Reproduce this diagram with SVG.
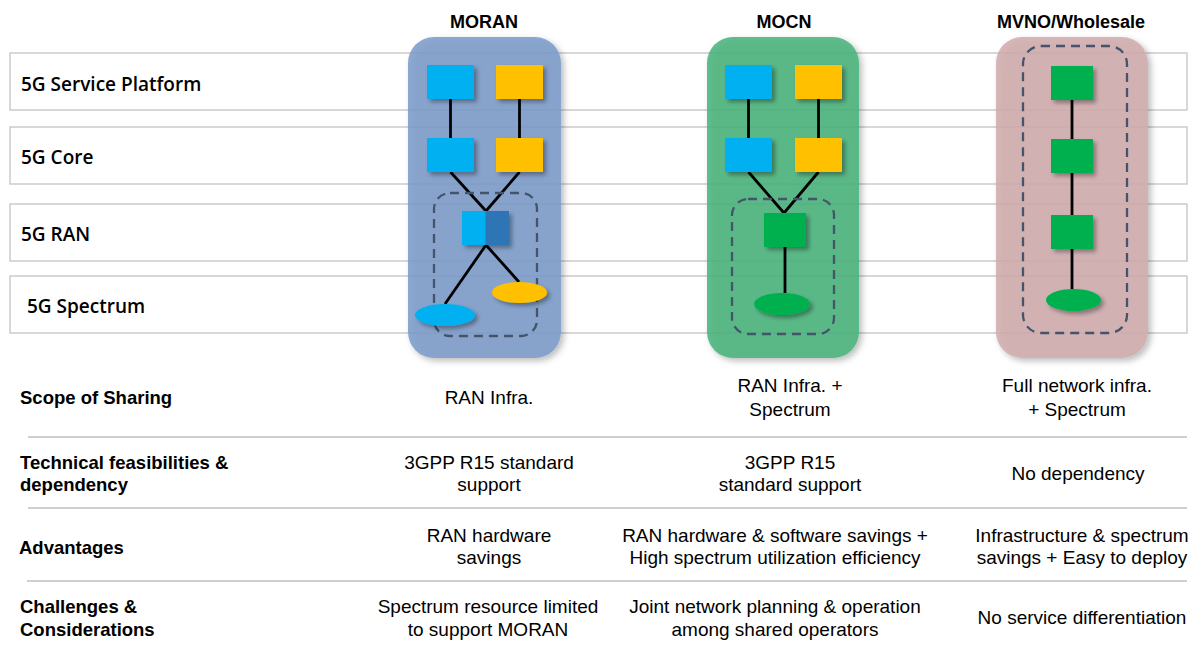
<svg xmlns="http://www.w3.org/2000/svg" width="1192" height="647" viewBox="0 0 1192 647">
<defs>
<filter id="shadow" x="-20%" y="-20%" width="150%" height="150%">
<feDropShadow dx="3" dy="3" stdDeviation="2" flood-color="#000" flood-opacity="0.35"/>
</filter>
<filter id="pshadow" x="-20%" y="-10%" width="140%" height="125%">
<feDropShadow dx="3" dy="3" stdDeviation="3" flood-color="#000" flood-opacity="0.3"/>
</filter>
<style>
.row{fill:#fff;stroke:#C8C8C8;stroke-width:1.4}
.rl{font-family:"Open Sans","Noto Sans",sans-serif;font-size:19px;font-weight:600;fill:#000}
.hd{font-family:"Liberation Sans",Arial,sans-serif;font-size:18px;font-weight:bold;fill:#000;text-anchor:middle}
.bl{font-family:"Liberation Sans",Arial,sans-serif;font-size:18.5px;font-weight:bold;fill:#000}
.tx{font-family:"Liberation Sans",Arial,sans-serif;font-size:19px;fill:#000;text-anchor:middle}
.sep{stroke:#BFBFBF;stroke-width:1.5}
.blue{fill:#00B0F0;filter:url(#shadow)}
.yel{fill:#FFC000;filter:url(#shadow)}
.grn{fill:#00B050;filter:url(#shadow)}
.dash{fill:none;stroke:#44546A;stroke-width:2.3;stroke-dasharray:9 6}
.edge{stroke:#000;stroke-width:2.8;fill:none}
</style>
</defs>
<rect width="1192" height="647" fill="#fff"/>

<g id="layers">
<g id="row-platform"><rect class="row" x="10" y="53" width="1177" height="57"/><text class="rl" x="21" y="91">5G Service Platform</text></g>
<g id="row-core"><rect class="row" x="10" y="127" width="1177" height="57"/><text class="rl" x="21" y="164">5G Core</text></g>
<g id="row-ran"><rect class="row" x="10" y="204" width="1177" height="57"/><text class="rl" x="21" y="241">5G RAN</text></g>
<g id="row-spectrum"><rect class="row" x="10" y="276" width="1177" height="57"/><text class="rl" x="27" y="313">5G Spectrum</text></g>
</g>

<g id="headers">
<text class="hd" x="484" y="28">MORAN</text>
<text class="hd" x="784" y="28">MOCN</text>
<text class="hd" x="1071" y="28">MVNO/Wholesale</text>
</g>

<g id="panel-moran"><rect x="408" y="37" width="153" height="321" rx="26" fill="#7A9BCA" fill-opacity="0.86" filter="url(#pshadow)"/></g>
<g id="panel-mocn"><rect x="707" y="37" width="152" height="321" rx="26" fill="#47B27A" fill-opacity="0.86" filter="url(#pshadow)"/></g>
<g id="panel-mvno"><rect x="996" y="37" width="152" height="321" rx="26" fill="#D0ABAE" fill-opacity="0.86" filter="url(#pshadow)"/></g>

<g id="connectors">
<line class="edge" x1="450.5" y1="99" x2="450.5" y2="138"/>
<line class="edge" x1="519.5" y1="99" x2="519.5" y2="138"/>
<line class="edge" x1="450.5" y1="172" x2="486" y2="211"/>
<line class="edge" x1="519.5" y1="172" x2="486" y2="211"/>
<line class="edge" x1="486" y1="245" x2="445" y2="304"/>
<line class="edge" x1="486" y1="245" x2="519" y2="282"/>
<line class="edge" x1="748.5" y1="99" x2="748.5" y2="138"/>
<line class="edge" x1="818.5" y1="99" x2="818.5" y2="138"/>
<line class="edge" x1="748.5" y1="172" x2="784" y2="213"/>
<line class="edge" x1="818.5" y1="172" x2="784" y2="213"/>
<line class="edge" x1="785" y1="247" x2="785" y2="293"/>
<line class="edge" x1="1072" y1="100" x2="1072" y2="139"/>
<line class="edge" x1="1072" y1="173" x2="1072" y2="215"/>
<line class="edge" x1="1072" y1="249" x2="1072" y2="289"/>
</g>

<g id="moran-nodes">
<rect class="dash" x="434" y="193" width="103" height="143" rx="16"/>
<g id="moran-sp-a"><rect class="blue" x="427" y="65" width="47" height="34"/></g>
<g id="moran-sp-b"><rect class="yel" x="496" y="65" width="47" height="34"/></g>
<g id="moran-core-a"><rect class="blue" x="427" y="138" width="47" height="34"/></g>
<g id="moran-core-b"><rect class="yel" x="496" y="138" width="47" height="34"/></g>
<g id="moran-ran" filter="url(#shadow)"><rect x="462" y="211" width="24" height="34" fill="#00B0F0"/><rect x="485.5" y="211" width="23.5" height="34" fill="#2E75B6"/></g>
<g id="moran-spec-a"><ellipse class="blue" cx="445" cy="315" rx="30" ry="11"/></g>
<g id="moran-spec-b"><ellipse class="yel" cx="519.5" cy="292.5" rx="27.5" ry="10.5"/></g>
</g>

<g id="mocn-nodes">
<rect class="dash" x="732" y="199" width="102" height="135" rx="16"/>
<g id="mocn-sp-a"><rect class="blue" x="725" y="65" width="47" height="34"/></g>
<g id="mocn-sp-b"><rect class="yel" x="795" y="65" width="47" height="34"/></g>
<g id="mocn-core-a"><rect class="blue" x="725" y="138" width="47" height="34"/></g>
<g id="mocn-core-b"><rect class="yel" x="795" y="138" width="47" height="34"/></g>
<g id="mocn-ran"><rect class="grn" x="764" y="213" width="42" height="34"/></g>
<g id="mocn-spec"><ellipse class="grn" cx="782" cy="304" rx="28" ry="11"/></g>
</g>

<g id="mvno-nodes">
<rect class="dash" x="1023" y="46" width="104" height="287" rx="18"/>
<g id="mvno-sp"><rect class="grn" x="1051" y="66" width="42" height="34"/></g>
<g id="mvno-core"><rect class="grn" x="1051" y="139" width="42" height="34"/></g>
<g id="mvno-ran"><rect class="grn" x="1051" y="215" width="42" height="34"/></g>
<g id="mvno-spec"><ellipse class="grn" cx="1073.5" cy="300" rx="27.5" ry="11"/></g>
</g>

<g id="table">
<line class="sep" x1="28" y1="437" x2="1187" y2="437"/>
<line class="sep" x1="28" y1="508" x2="1187" y2="508"/>
<line class="sep" x1="27" y1="581" x2="1187" y2="581"/>

<text class="bl" x="20" y="404">Scope of Sharing</text>
<text class="tx" x="489" y="404">RAN Infra.</text>
<text class="tx" x="790" y="392">RAN Infra. +</text>
<text class="tx" x="790" y="416">Spectrum</text>
<text class="tx" x="1077" y="392">Full network infra.</text>
<text class="tx" x="1077" y="416">+ Spectrum</text>

<text class="bl" x="20" y="469">Technical feasibilities &amp;</text>
<text class="bl" x="20" y="491">dependency</text>
<text class="tx" x="489" y="469">3GPP R15 standard</text>
<text class="tx" x="489" y="491">support</text>
<text class="tx" x="790" y="469">3GPP R15</text>
<text class="tx" x="790" y="491">standard support</text>
<text class="tx" x="1078" y="480">No dependency</text>

<text class="bl" x="19" y="554">Advantages</text>
<text class="tx" x="489" y="542">RAN hardware</text>
<text class="tx" x="489" y="564">savings</text>
<text class="tx" x="775" y="542">RAN hardware &amp; software savings +</text>
<text class="tx" x="775" y="564">High spectrum utilization efficiency</text>
<text class="tx" x="1082" y="542">Infrastructure &amp; spectrum</text>
<text class="tx" x="1082" y="564">savings + Easy to deploy</text>

<text class="bl" x="20" y="613">Challenges &amp;</text>
<text class="bl" x="20" y="636">Considerations</text>
<text class="tx" x="488" y="613">Spectrum resource limited</text>
<text class="tx" x="488" y="636">to support MORAN</text>
<text class="tx" x="775" y="613">Joint network planning &amp; operation</text>
<text class="tx" x="775" y="636">among shared operators</text>
<text class="tx" x="1082" y="624">No service differentiation</text>
</g>
</svg>
